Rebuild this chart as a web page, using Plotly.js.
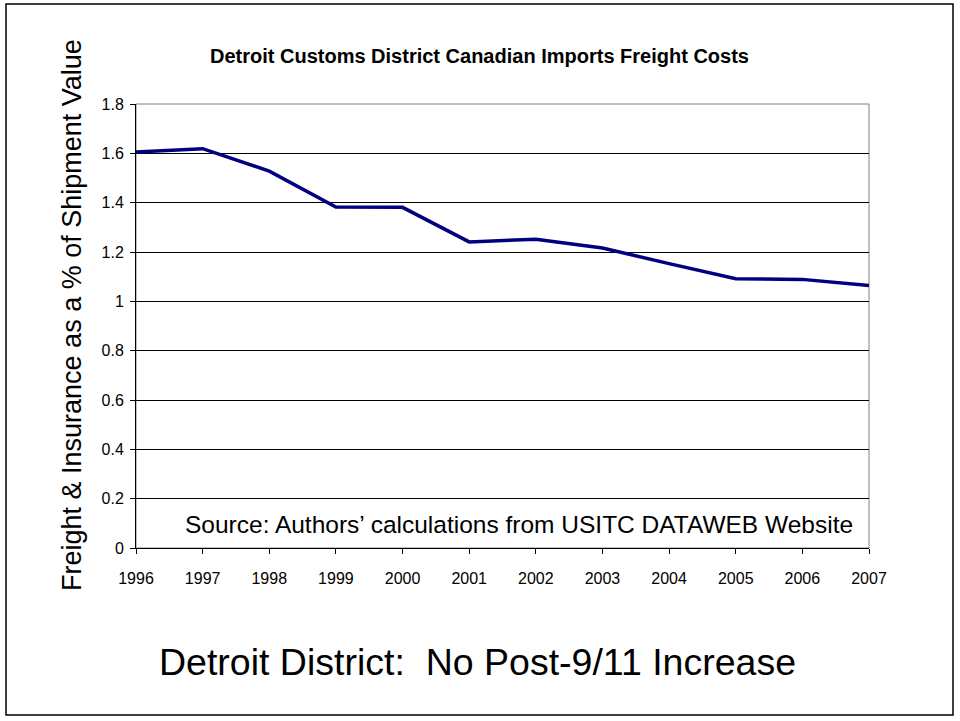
<!DOCTYPE html>
<html>
<head>
<meta charset="utf-8">
<script src="https://cdn.plot.ly/plotly-3.0.1.min.js"></script>
<style>html,body{margin:0;padding:0;background:#fff;}#chart{width:960px;height:721px;}</style>
</head>
<body>
<div id="chart"></div>
<script>
var years = [1996, 1997, 1998, 1999, 2000, 2001, 2002, 2003, 2004, 2005, 2006, 2007];
var freightPct = [1.605, 1.619, 1.528, 1.382, 1.381, 1.241, 1.252, 1.216, 1.153, 1.092, 1.089, 1.064];
var yTicks = [0, 0.2, 0.4, 0.6, 0.8, 1, 1.2, 1.4, 1.6, 1.8];

var W = 960, H = 721, L = 136, R = 91, T = 104, B = 173;
var pw = W - L - R, ph = H - T - B;
function px(x) { return (x - L) / pw; }
function py(y) { return (H - B - y) / ph; }

var trace = {
  x: years, y: freightPct, type: 'scatter', mode: 'lines',
  line: {color: '#000080', width: 3.5}, hoverinfo: 'x+y'
};

var font = 'Liberation Sans, Arial, sans-serif';

var layout = {
  width: W, height: H,
  margin: {l: L, r: R, t: T, b: B},
  paper_bgcolor: '#fff', plot_bgcolor: '#fff',
  showlegend: false,
  font: {family: font, color: '#000'},
  xaxis: {
    range: [1996, 2007], tickmode: 'array', tickvals: years,
    showgrid: false, zeroline: false, showline: true, linecolor: '#000', linewidth: 1,
    ticks: 'outside', ticklen: 5, tickcolor: '#000', tickfont: {size: 16, family: font},
    ticklabelstandoff: 11, fixedrange: true
  },
  yaxis: {
    range: [0, 1.8], tickmode: 'array', tickvals: yTicks, ticktext: yTicks.map(String),
    showgrid: true, gridcolor: '#000', gridwidth: 1, zeroline: false,
    showline: true, linecolor: '#000', linewidth: 1,
    ticks: 'outside', ticklen: 5, tickcolor: '#000', tickfont: {size: 16, family: font},
    ticklabelstandoff: 3, fixedrange: true
  },
  shapes: [
    {type: 'rect', xref: 'paper', yref: 'paper', x0: px(6), x1: px(953), y0: py(715), y1: py(4),
     line: {color: '#000', width: 1.5}, fillcolor: 'rgba(0,0,0,0)', layer: 'below'},
    {type: 'rect', xref: 'paper', yref: 'paper', x0: 0, x1: 1, y0: 0, y1: 1,
     line: {color: '#808080', width: 1}, fillcolor: 'rgba(0,0,0,0)', layer: 'below'}
  ],
  annotations: [
    {text: '<b>Detroit Customs District Canadian Imports Freight Costs</b>', xref: 'paper', yref: 'paper',
     x: px(479), y: py(56), xanchor: 'center', yanchor: 'middle', showarrow: false,
     font: {size: 20, family: font}},
    {text: 'Freight &amp; Insurance as a % of Shipment Value', xref: 'paper', yref: 'paper',
     x: px(72), y: py(315), xanchor: 'center', yanchor: 'middle', showarrow: false, textangle: -90,
     font: {size: 27, family: font}},
    {text: 'Source: Authors\u2019 calculations from USITC DATAWEB Website', xref: 'paper', yref: 'paper',
     x: px(519), y: py(524), xanchor: 'center', yanchor: 'middle', showarrow: false,
     font: {size: 24.5, family: font}},
    {text: 'Detroit District:  No Post-9/11 Increase', xref: 'paper', yref: 'paper',
     x: px(477), y: py(662), xanchor: 'center', yanchor: 'middle', showarrow: false,
     font: {size: 37.5, family: font}}
  ]
};

Plotly.newPlot('chart', [trace], layout, {displayModeBar: false, staticPlot: true});
</script>
</body>
</html>
